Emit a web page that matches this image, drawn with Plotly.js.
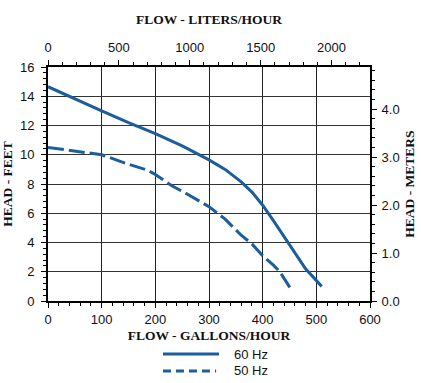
<!DOCTYPE html>
<html><head><meta charset="utf-8">
<script src="https://cdn.plot.ly/plotly-3.0.1.min.js"></script>
<style>html,body{margin:0;padding:0;background:#fff}#chart{width:421px;height:383px}</style>
</head><body><div id="chart"></div>
<script>
const gph60 = [0, 50, 100, 150, 200, 250, 300, 330, 360, 380, 400, 420, 440, 460, 480, 510];
const ft60  = [14.65, 13.8, 13.0, 12.2, 11.45, 10.6, 9.65, 9.0, 8.15, 7.45, 6.55, 5.5, 4.4, 3.3, 2.2, 1.0];
const gph50 = [0, 50, 100, 150, 185, 200, 230, 260, 300, 330, 360, 380, 400, 420, 432, 452];
const ft50  = [10.5, 10.25, 10.0, 9.35, 8.95, 8.65, 7.9, 7.3, 6.45, 5.6, 4.5, 3.9, 3.1, 2.45, 2.0, 0.85];
const seriesNames = ['60 Hz', '50 Hz'];
const GAL_TO_L = 3.78541, FT_TO_M = 0.3048;
const xMax = 600, yMax = 16;
const blue = '#1b5d9d';
const tickFont = {family: 'Liberation Sans, Arial, sans-serif', size: 13, color: '#111'};
const titleFont = {family: 'Liberation Serif, Times New Roman, serif', size: 13.5, color: '#111', weight: 'bold'};

const traces = [
  {x: gph60, y: ft60, mode: 'lines', line: {color: blue, width: 3}, name: seriesNames[0], showlegend: false, xaxis: 'x', yaxis: 'y'},
  {x: gph50, y: ft50, mode: 'lines', line: {color: blue, width: 3, dash: '16px,5px'}, name: seriesNames[1], showlegend: false, xaxis: 'x', yaxis: 'y'},
  {x: [0, xMax * GAL_TO_L], y: [0, yMax * FT_TO_M], mode: 'markers', marker: {opacity: 0}, hoverinfo: 'skip', showlegend: false, xaxis: 'x2', yaxis: 'y2'}
];

const axCommon = {showline: true, linecolor: '#000', linewidth: 2, ticks: 'outside', ticklen: 5, tickwidth: 1, tickcolor: '#000', tickfont: tickFont, zeroline: false, fixedrange: true};

const layout = {
  width: 421, height: 383,
  margin: {l: 48, r: 51, t: 67, b: 82},
  paper_bgcolor: '#fff', plot_bgcolor: '#fff',
  showlegend: false,
  xaxis: Object.assign({}, axCommon, {range: [0, xMax], dtick: 100, tick0: 0, showgrid: true, gridcolor: '#222', gridwidth: 1,
    minor: {dtick: 20, ticks: 'outside', ticklen: 3, tickcolor: '#000', showgrid: false},
    title: {text: 'FLOW - GALLONS/HOUR', font: titleFont, standoff: 5}}),
  yaxis: Object.assign({}, axCommon, {range: [0, yMax], dtick: 2, tick0: 0, showgrid: true, gridcolor: '#333', gridwidth: 1,
    ticklabelstandoff: 4,
    minor: {dtick: 0.4, ticks: 'outside', ticklen: 3, tickcolor: '#000', showgrid: false},
    title: {text: 'HEAD - FEET', font: titleFont, standoff: 4}}),
  xaxis2: Object.assign({}, axCommon, {overlaying: 'x', side: 'top', anchor: 'y', range: [0, xMax * GAL_TO_L], dtick: 500, tick0: 0, showgrid: false,
    ticklabelstandoff: 3,
    minor: {dtick: 100, ticks: 'outside', ticklen: 3, tickcolor: '#000', showgrid: false},
    title: {text: 'FLOW - LITERS/HOUR', font: titleFont, standoff: 12}}),
  yaxis2: Object.assign({}, axCommon, {overlaying: 'y', side: 'right', anchor: 'x', range: [0, yMax * FT_TO_M], dtick: 1, tick0: 0, tickformat: '.1f', showgrid: false,
    ticklabelstandoff: 2,
    minor: {dtick: 0.2, ticks: 'outside', ticklen: 3, tickcolor: '#000', showgrid: false},
    title: {text: 'HEAD - METERS', font: titleFont, standoff: 6}}),
  shapes: [
    {type: 'line', xref: 'paper', yref: 'paper', x0: 0.357, x1: 0.531, y0: -0.2265, y1: -0.2265, line: {color: blue, width: 3}},
    {type: 'line', xref: 'paper', yref: 'paper', x0: 0.357, x1: 0.522, y0: -0.299, y1: -0.299, line: {color: blue, width: 3, dash: '8px,5px'}}
  ],
  annotations: [
    {xref: 'paper', yref: 'paper', x: 0.572, y: -0.2265, xanchor: 'left', yanchor: 'middle', text: seriesNames[0], showarrow: false, font: {family: 'Liberation Sans, Arial, sans-serif', size: 13, color: '#111'}},
    {xref: 'paper', yref: 'paper', x: 0.572, y: -0.299, xanchor: 'left', yanchor: 'middle', text: seriesNames[1], showarrow: false, font: {family: 'Liberation Sans, Arial, sans-serif', size: 13, color: '#111'}}
  ]
};
Plotly.newPlot('chart', traces, layout, {displayModeBar: false, staticPlot: true});
</script></body></html>
